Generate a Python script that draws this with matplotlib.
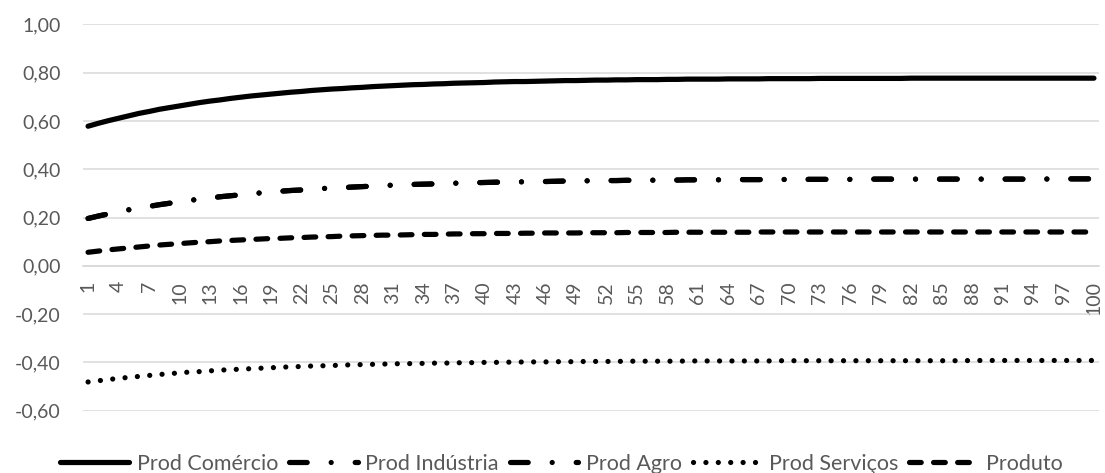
import matplotlib
matplotlib.use("Agg")
import matplotlib.pyplot as plt
from matplotlib.ticker import FuncFormatter, FixedLocator

# Periods 1..100
periods = list(range(1, 101))

prod_comercio = [
    0.578, 0.590, 0.601, 0.611, 0.621, 0.631, 0.639, 0.648, 0.655, 0.662,
    0.669, 0.676, 0.682, 0.687, 0.693, 0.698, 0.703, 0.707, 0.711, 0.715,
    0.719, 0.722, 0.726, 0.729, 0.732, 0.734, 0.737, 0.739, 0.742, 0.744,
    0.746, 0.748, 0.750, 0.751, 0.753, 0.754, 0.756, 0.757, 0.758, 0.759,
    0.761, 0.762, 0.763, 0.763, 0.764, 0.765, 0.766, 0.767, 0.767, 0.768,
    0.769, 0.769, 0.770, 0.770, 0.771, 0.771, 0.771, 0.772, 0.772, 0.773,
    0.773, 0.773, 0.773, 0.774, 0.774, 0.774, 0.774, 0.775, 0.775, 0.775,
    0.775, 0.775, 0.776, 0.776, 0.776, 0.776, 0.776, 0.776, 0.776, 0.776,
    0.776, 0.777, 0.777, 0.777, 0.777, 0.777, 0.777, 0.777, 0.777, 0.777,
    0.777, 0.777, 0.777, 0.777, 0.777, 0.777, 0.777, 0.777, 0.777, 0.777,
]

prod_industria = [
    0.196, 0.206, 0.215, 0.223, 0.232, 0.239, 0.246, 0.253, 0.259, 0.265,
    0.271, 0.276, 0.281, 0.286, 0.290, 0.294, 0.298, 0.302, 0.305, 0.309,
    0.312, 0.314, 0.317, 0.320, 0.322, 0.324, 0.326, 0.328, 0.330, 0.332,
    0.334, 0.335, 0.337, 0.338, 0.339, 0.341, 0.342, 0.343, 0.344, 0.345,
    0.346, 0.347, 0.347, 0.348, 0.349, 0.349, 0.350, 0.351, 0.351, 0.352,
    0.352, 0.353, 0.353, 0.354, 0.354, 0.354, 0.355, 0.355, 0.355, 0.356,
    0.356, 0.356, 0.356, 0.357, 0.357, 0.357, 0.357, 0.357, 0.357, 0.358,
    0.358, 0.358, 0.358, 0.358, 0.358, 0.358, 0.358, 0.359, 0.359, 0.359,
    0.359, 0.359, 0.359, 0.359, 0.359, 0.359, 0.359, 0.359, 0.359, 0.359,
    0.359, 0.359, 0.359, 0.359, 0.359, 0.360, 0.360, 0.360, 0.360, 0.360,
]

prod_agro = [
    0.196, 0.206, 0.215, 0.223, 0.232, 0.239, 0.246, 0.253, 0.259, 0.265,
    0.271, 0.276, 0.281, 0.286, 0.290, 0.294, 0.298, 0.302, 0.305, 0.309,
    0.312, 0.314, 0.317, 0.320, 0.322, 0.324, 0.326, 0.328, 0.330, 0.332,
    0.334, 0.335, 0.337, 0.338, 0.339, 0.341, 0.342, 0.343, 0.344, 0.345,
    0.346, 0.347, 0.347, 0.348, 0.349, 0.349, 0.350, 0.351, 0.351, 0.352,
    0.352, 0.353, 0.353, 0.354, 0.354, 0.354, 0.355, 0.355, 0.355, 0.356,
    0.356, 0.356, 0.356, 0.357, 0.357, 0.357, 0.357, 0.357, 0.357, 0.358,
    0.358, 0.358, 0.358, 0.358, 0.358, 0.358, 0.358, 0.359, 0.359, 0.359,
    0.359, 0.359, 0.359, 0.359, 0.359, 0.359, 0.359, 0.359, 0.359, 0.359,
    0.359, 0.359, 0.359, 0.359, 0.359, 0.360, 0.360, 0.360, 0.360, 0.360,
]

prod_servicos = [
    -0.481, -0.476, -0.471, -0.466, -0.462, -0.458, -0.454, -0.450, -0.447, -0.443,
    -0.440, -0.438, -0.435, -0.432, -0.430, -0.428, -0.426, -0.424, -0.422, -0.420,
    -0.418, -0.417, -0.415, -0.414, -0.413, -0.411, -0.410, -0.409, -0.408, -0.407,
    -0.406, -0.405, -0.405, -0.404, -0.403, -0.403, -0.402, -0.401, -0.401, -0.400,
    -0.400, -0.399, -0.399, -0.398, -0.398, -0.398, -0.397, -0.397, -0.397, -0.396,
    -0.396, -0.396, -0.396, -0.395, -0.395, -0.395, -0.395, -0.395, -0.395, -0.394,
    -0.394, -0.394, -0.394, -0.394, -0.394, -0.394, -0.394, -0.394, -0.393, -0.393,
    -0.393, -0.393, -0.393, -0.393, -0.393, -0.393, -0.393, -0.393, -0.393, -0.393,
    -0.393, -0.393, -0.393, -0.393, -0.393, -0.393, -0.393, -0.392, -0.392, -0.392,
    -0.392, -0.392, -0.392, -0.392, -0.392, -0.392, -0.392, -0.392, -0.392, -0.392,
]

produto = [
    0.056, 0.061, 0.066, 0.070, 0.074, 0.078, 0.082, 0.086, 0.089, 0.092,
    0.095, 0.098, 0.100, 0.103, 0.105, 0.107, 0.109, 0.111, 0.113, 0.114,
    0.116, 0.117, 0.119, 0.120, 0.121, 0.123, 0.124, 0.125, 0.126, 0.127,
    0.127, 0.128, 0.129, 0.130, 0.130, 0.131, 0.132, 0.132, 0.133, 0.133,
    0.134, 0.134, 0.134, 0.135, 0.135, 0.136, 0.136, 0.136, 0.136, 0.137,
    0.137, 0.137, 0.137, 0.138, 0.138, 0.138, 0.138, 0.138, 0.139, 0.139,
    0.139, 0.139, 0.139, 0.139, 0.139, 0.139, 0.140, 0.140, 0.140, 0.140,
    0.140, 0.140, 0.140, 0.140, 0.140, 0.140, 0.140, 0.140, 0.140, 0.140,
    0.140, 0.140, 0.140, 0.140, 0.140, 0.140, 0.140, 0.140, 0.140, 0.140,
    0.140, 0.140, 0.140, 0.140, 0.140, 0.140, 0.140, 0.140, 0.140, 0.140,
]

series_labels = ["Prod Comércio", "Prod Indústria", "Prod Agro",
                 "Prod Serviços", "Produto"]
x_tick_positions = list(range(1, 101, 3))
x_tick_labels = [str(p) for p in x_tick_positions]
y_ticks = [-0.6, -0.4, -0.2, 0.0, 0.2, 0.4, 0.6, 0.8, 1.0]

TEXT = "#595959"
GRID = "#D9D9D9"
LW = 3.75

plt.rcParams["font.family"] = ["Lato", "DejaVu Sans"]

fig = plt.figure(figsize=(11.05, 4.73), dpi=100)
ax = fig.add_axes([0.0751, 0.1317, 0.9195, 0.8169])

styles = [
    dict(linestyle="-"),
    dict(linestyle=(0, (3.4, 4.6, 0.01, 4.6))),
    dict(linestyle=(0, (3.4, 4.6, 0.01, 4.6))),
    dict(linestyle=(0, (0.01, 2.37))),
    dict(linestyle=(0, (2.25, 2.37))),
]
data = [prod_comercio, prod_industria, prod_agro, prod_servicos, produto]

handles = []
for vals, lab, st in zip(data, series_labels, styles):
    h, = ax.plot(periods, vals, color="black", lw=LW, label=lab,
                 solid_capstyle="round", dash_capstyle="round", **st)
    handles.append(h)

ax.set_xlim(0.5, 100.5)
ax.set_ylim(-0.6, 1.0)

ax.yaxis.set_major_locator(FixedLocator(y_ticks))
ax.yaxis.set_major_formatter(FuncFormatter(lambda v, _: f"{v:.2f}".replace(".", ",")))
ax.grid(axis="y", color=GRID, lw=1.1)
ax.set_axisbelow(True)

ax.set_xticks(x_tick_positions)
ax.set_xticklabels(x_tick_labels)

for s in ["top", "right", "left"]:
    ax.spines[s].set_visible(False)
ax.spines["bottom"].set_position(("data", 0))
ax.spines["bottom"].set_color(GRID)
ax.spines["bottom"].set_linewidth(1.1)

ax.tick_params(axis="y", length=0, pad=16, labelsize=14, labelcolor=TEXT)
ax.tick_params(axis="x", length=0, pad=11, labelsize=14, labelcolor=TEXT,
               labelrotation=90)
for lbl in ax.get_xticklabels():
    lbl.set_verticalalignment("top")
    lbl.set_horizontalalignment("center")

fig.legend(handles=handles, labels=series_labels, loc="center",
           bbox_to_anchor=(0.508, 0.019), ncol=5, frameon=False,
           fontsize=15.5, labelcolor=TEXT, handlelength=3.2,
           handletextpad=0.35, columnspacing=0.5, borderaxespad=0,
           borderpad=0)

fig.savefig("out.png", dpi=100)
